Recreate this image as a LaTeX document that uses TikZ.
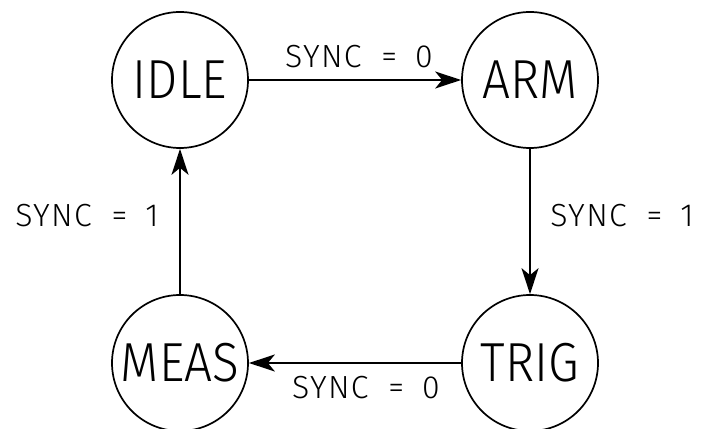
\documentclass[tikz,border=0pt]{standalone}
\usepackage{fontspec}
\setmainfont{Liberation Sans}
\IfFontExistsTF{Fira Sans Light}
  {\newfontfamily\statefont[FakeStretch=0.9]{Fira Sans Light}\def\statesize{55}%
   \newfontfamily\lblfont[LetterSpace=4]{Fira Sans Light}\def\lblsize{32}}
  {\newfontfamily\statefont[FakeStretch=0.76]{Liberation Sans}\def\statesize{52}%
   \newfontfamily\lblfont{Liberation Sans}\def\lblsize{30}}
\usetikzlibrary{arrows.meta}
\begin{document}
\begin{tikzpicture}[x=1pt,y=1pt,
  state/.style={circle,draw,line width=1.7pt,minimum size=136pt,inner sep=0pt,font=\statefont\fontsize{\statesize}{\statesize}\selectfont},
  trans/.style={line width=1.8pt,-{Stealth[length=26pt,width=17pt,inset=7pt]}},
  lbl/.style={inner sep=0pt,font=\lblfont\fontsize{\lblsize}{\lblsize}\selectfont}]
\useasboundingbox (0,0) rectangle (703,428);
\node[state] (idle) at (180,348) {IDLE};
\node[state] (arm)  at (530,348) {ARM};
\node[state] (trig) at (530,65) {TRIG};
\node[state] (meas) at (180,65) {MEAS};
\draw[trans] (idle) -- (arm);
\draw[trans] (arm) -- (trig);
\draw[trans] (trig) -- (meas);
\draw[trans] (meas) -- (idle);
\node[lbl] (l1) at (359,371) {SYNC\hspace{20pt}=\hspace{18pt}0};
\node[lbl] (l2) at (622,212) {SYNC\hspace{20pt}=\hspace{18pt}1};
\node[lbl] (l3) at (366,40) {SYNC\hspace{20pt}=\hspace{18pt}0};
\node[lbl] (l4) at (87,212) {SYNC\hspace{20pt}=\hspace{18pt}1};
\end{tikzpicture}
\end{document}
